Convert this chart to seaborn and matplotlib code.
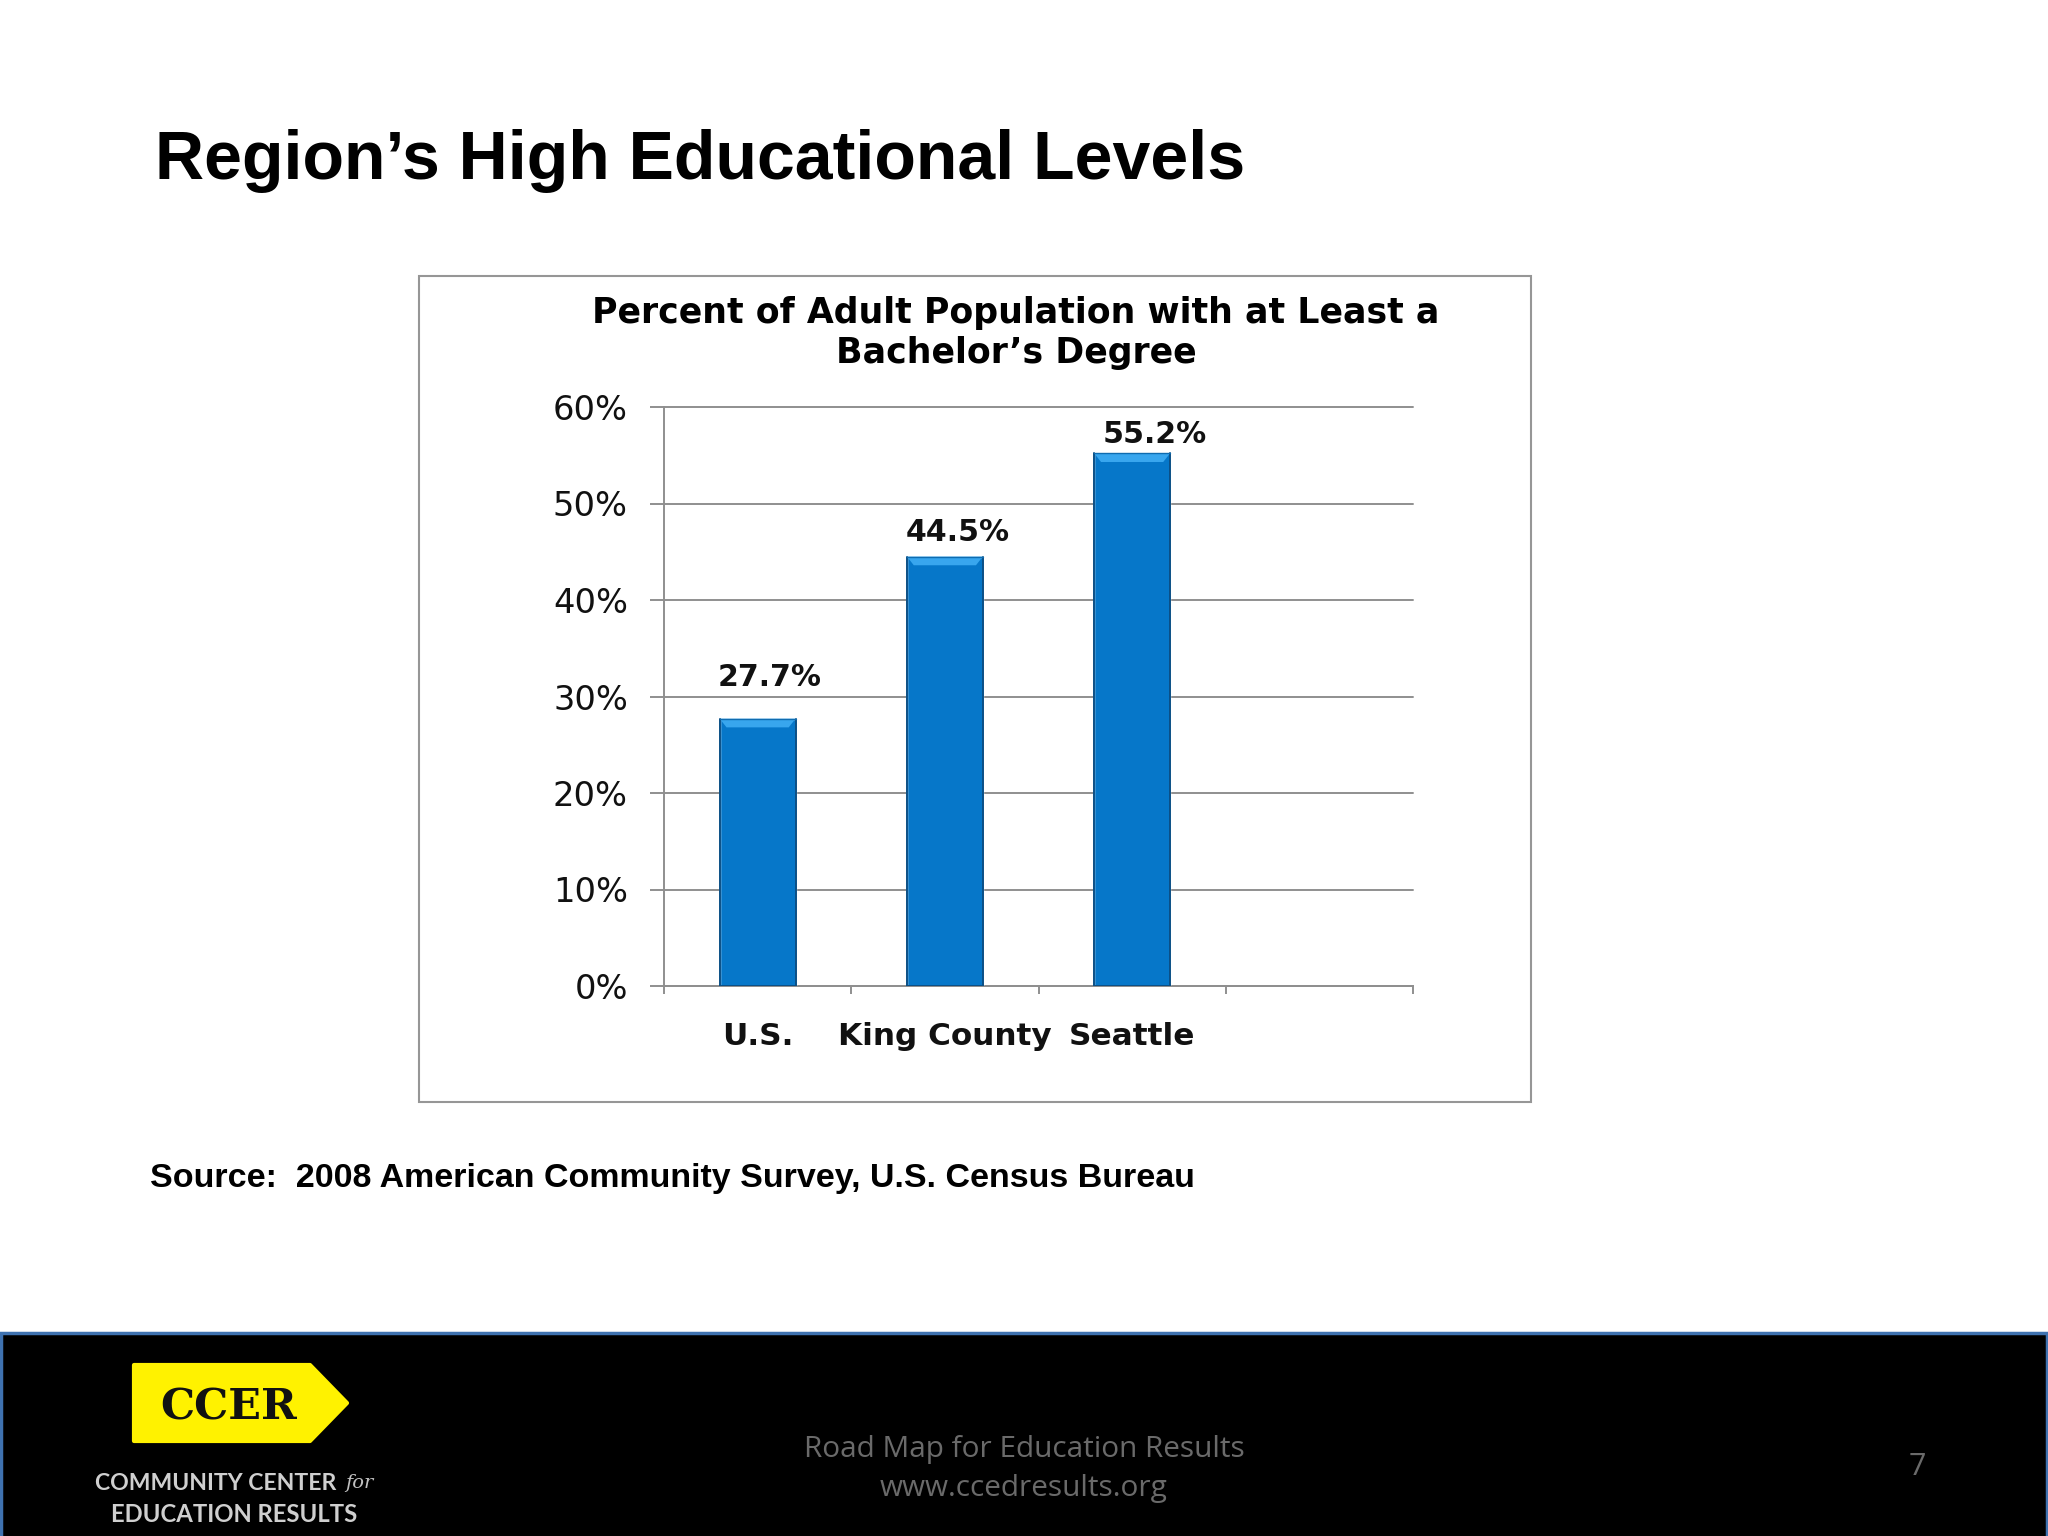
import numpy as np
import pandas as pd
import matplotlib
matplotlib.use("Agg")
import matplotlib.pyplot as plt
import seaborn as sns
from matplotlib.patches import Polygon, Rectangle

# data
categories = ["U.S.", "King County", "Seattle"]
values = [27.7, 44.5, 55.2]
value_labels = ["27.7%", "44.5%", "55.2%"]
y_ticks = [0, 10, 20, 30, 40, 50, 60]
y_tick_labels = ["0%", "10%", "20%", "30%", "40%", "50%", "60%"]

page_title = "Region\u2019s High Educational Levels"
chart_title = "Percent of Adult Population with at Least a\nBachelor\u2019s Degree"
source_text = "Source:  2008 American Community Survey, U.S. Census Bureau"
footer_text = "Road Map for Education Results\nwww.ccedresults.org"
page_number = "7"

W, H = 2048, 1536
GRID = "#8f8f8f"
BLUE = "#0677c9"

sns.set_style("white")
plt.rcParams["font.family"] = ["Liberation Sans", "DejaVu Sans"]

fig = plt.figure(figsize=(20.48, 15.36), dpi=100, facecolor="white")

# page layer, pixel coordinates
page = fig.add_axes([0, 0, 1, 1], zorder=0)
page.set_xlim(0, W)
page.set_ylim(H, 0)
page.axis("off")

page.text(155, 161, page_title, fontsize=49, fontweight="bold", va="center", color="black")
page.add_patch(Rectangle((419, 275.5), 1112, 826, fc="white", ec="#969696", lw=1.5))
page.text(1016, 333, chart_title, family="DejaVu Sans", fontsize=25, fontweight="bold",
          ha="center", va="center", linespacing=1.25, color="black")
page.text(150, 1178, source_text, fontsize=24.5, fontweight="bold", va="center", color="black")

# footer
page.add_patch(Rectangle((1, 1333), W - 2, 210, fc="black", ec="#3f72b0", lw=2.5))
page.text(1024, 1469, footer_text, family="Open Sans", fontsize=21.4, color="#6a6a6a",
          ha="center", va="center", linespacing=1.45)
page.text(1917, 1467, page_number, family="Open Sans", fontsize=22, color="#6a6a6a",
          ha="center", va="center")

# logo
page.add_patch(Polygon([(134, 1365), (310, 1365), (347, 1403), (310, 1441), (134, 1441)],
                       closed=True, fc="#fff200", ec="#fff200", lw=3, joinstyle="round"))
page.text(229, 1408, "CCER", family="DejaVu Serif", fontsize=31, fontweight="bold",
          color="#111111", ha="center", va="center")
page.text(95, 1483, "COMMUNITY CENTER", family="Lato", fontsize=16.6, fontweight="bold",
          color="#cfcfcf", va="center")
page.text(374, 1483, "for", family="DejaVu Serif", fontsize=14, style="italic",
          color="#c0c0c0", va="center", ha="right")
page.text(234, 1515, "EDUCATION RESULTS", family="Lato", fontsize=17.2, fontweight="bold",
          color="#cfcfcf", va="center", ha="center")

# chart
ax = fig.add_axes([664 / W, 1 - 986 / H, (1413 - 664) / W, (986 - 407) / H], zorder=1)
ax.patch.set_alpha(0)

df = pd.DataFrame({"region": categories, "pct": values})
sns.barplot(data=df, x="region", y="pct", color=BLUE, saturation=1, width=0.405, ax=ax, zorder=3)

ax.set_xlim(-0.5, 3.5)
ax.set_ylim(0, 60)
ax.set_xlabel("")
ax.set_ylabel("")

ax.set_yticks(y_ticks)
ax.set_yticklabels(y_tick_labels, family="DejaVu Sans", fontsize=24.2, color="#111111")
ax.tick_params(axis="y", left=True, length=10, width=1.4, color=GRID, pad=16)
ax.grid(axis="y", color=GRID, lw=1.4, zorder=1)
ax.grid(axis="x", visible=False)
for line in ax.get_ygridlines():
    line.set_clip_on(False)

ax.set_xticks(range(len(categories)))
ax.set_xticklabels(categories, family="DejaVu Sans", fontsize=22.4, fontweight="bold", color="#111111")
ax.set_xticks(np.arange(-0.5, 4, 1), minor=True)
ax.tick_params(axis="x", which="major", bottom=False, pad=22.5)
ax.tick_params(axis="x", which="minor", bottom=True, length=6, width=1.4, color=GRID)

for side in ["top", "right"]:
    ax.spines[side].set_visible(False)
for side in ["left", "bottom"]:
    ax.spines[side].set_color(GRID)
    ax.spines[side].set_linewidth(1.4)

# bevel and dark edge on each bar, taken from the bars themselves
for bar in list(ax.patches):
    x0, x1 = bar.get_x(), bar.get_x() + bar.get_width()
    top = bar.get_height()
    inset = bar.get_width() * 0.09
    drop = 0.9
    ax.add_patch(Polygon([(x0, top), (x1, top), (x1 - inset, top - drop), (x0 + inset, top - drop)],
                         closed=True, fc="#38a6ee", ec="none", zorder=4))
    ax.plot([x0, x0], [0, top], color="#0a4f85", lw=1.4, zorder=5)
    ax.plot([x1, x1], [0, top], color="#0a4f85", lw=1.4, zorder=5)
    ax.plot([x0, x1], [top, top], color="#0f6cb0", lw=1.0, zorder=5)
    ax.plot([x0, x1], [0, 0], color="#0a4f85", lw=1.4, zorder=5)

# labels sit off centre in the original slide
label_dx = [8.5, 9.5, 16]
label_dy = [19, 7, 3]
for i, txt in enumerate(value_labels):
    ax.annotate(txt, (i, values[i]), xytext=(label_dx[i], label_dy[i]), textcoords="offset points",
                family="DejaVu Sans", fontsize=21.6, fontweight="bold", ha="center", va="bottom",
                color="#111111", annotation_clip=False)

fig.savefig("out.png", dpi=100)
